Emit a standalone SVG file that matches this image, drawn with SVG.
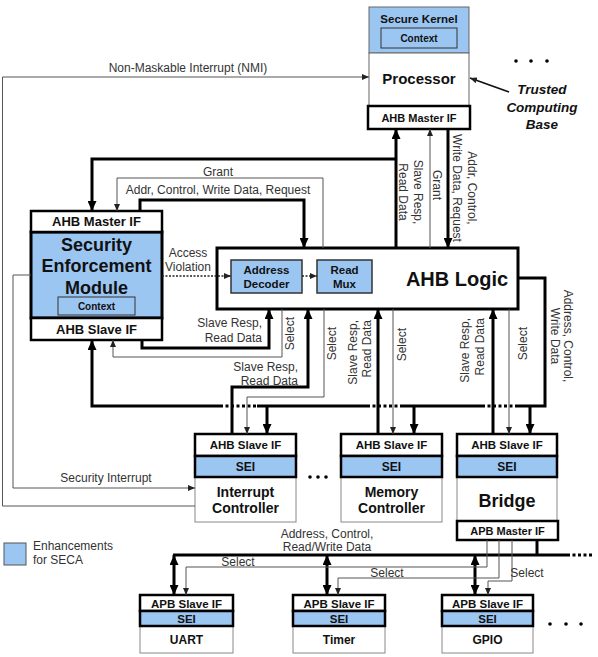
<svg xmlns="http://www.w3.org/2000/svg" width="598" height="657" viewBox="0 0 598 657">
<style>
text{font-family:"Liberation Sans",Arial,sans-serif;}
.b{font-weight:bold;fill:#111;text-anchor:middle;}
.l{font-size:12px;fill:#333;}
.m{text-anchor:middle;}
.e{text-anchor:end;}
.blue{fill:#9cc6f2;}
.tk{fill:none;stroke:#000;stroke-width:3;}
.tn{fill:none;stroke:#555;stroke-width:1;}
.dt{fill:none;stroke:#000;stroke-width:3;stroke-dasharray:3 2.5;}
.if{fill:#fff;stroke:#000;stroke-width:2.5;}
.sei{fill:#9cc6f2;stroke:#000;stroke-width:2.5;}
.body{fill:#fff;stroke:#888;stroke-width:1;}
</style>
<defs>
<marker id="ah" markerUnits="userSpaceOnUse" markerWidth="10" markerHeight="9" refX="10" refY="4.5" orient="auto-start-reverse"><path d="M0,0 L10,4.5 L0,9 z" fill="#000"/></marker>
<marker id="as" markerUnits="userSpaceOnUse" markerWidth="7" markerHeight="6" refX="7" refY="3" orient="auto"><path d="M0,0 L7,3 L0,6 z" fill="#222"/></marker>
</defs>

<g id="processor">
<rect x="369" y="7" width="100" height="46" class="blue" stroke="#666" stroke-width="1"/>
<rect x="381" y="28" width="76" height="20" class="blue" stroke="#333" stroke-width="1"/>
<rect x="369" y="53" width="100" height="53" fill="#fff" stroke="#666" stroke-width="1"/>
<rect x="368" y="106" width="102" height="23" class="if" stroke-width="3"/>
<text x="419" y="23" class="b" font-size="11.5">Secure Kernel</text>
<text x="419" y="41.5" class="b" font-size="10">Context</text>
<text x="419" y="84" class="b" font-size="15">Processor</text>
<text x="419" y="121.5" class="b" font-size="11">AHB Master IF</text>
</g>

<g id="tcb">
<text x="542" y="94" class="b" font-size="13.5" font-style="italic">Trusted</text>
<text x="542" y="112" class="b" font-size="13.5" font-style="italic">Computing</text>
<text x="542" y="129" class="b" font-size="13.5" font-style="italic">Base</text>
<circle cx="516" cy="61" r="1.8" fill="#000"/><circle cx="531" cy="61" r="1.8" fill="#000"/><circle cx="547" cy="61" r="1.8" fill="#000"/>
</g>

<g id="sem">
<rect x="31" y="232" width="131" height="86" class="blue" stroke="#000" stroke-width="3"/>
<rect x="31" y="211" width="131" height="21" class="if" stroke-width="3"/>
<rect x="31" y="318" width="131" height="22" class="if" stroke-width="3"/>
<rect x="58" y="297" width="77" height="18" class="blue" stroke="#333" stroke-width="1"/>
<text x="96.5" y="226" class="b" font-size="13">AHB Master IF</text>
<text x="96.5" y="250.5" class="b" font-size="18">Security</text>
<text x="96.5" y="271.5" class="b" font-size="18">Enforcement</text>
<text x="96.5" y="293.5" class="b" font-size="18">Module</text>
<text x="96.5" y="309.5" class="b" font-size="10">Context</text>
<text x="96.5" y="334" class="b" font-size="13">AHB Slave IF</text>
</g>

<g id="ahb-logic">
<rect x="217" y="248" width="301" height="61" fill="#fff" stroke="#000" stroke-width="3"/>
<rect x="231" y="260" width="71" height="33" class="blue" stroke="#333" stroke-width="1.5"/>
<rect x="317" y="260" width="55" height="33" class="blue" stroke="#333" stroke-width="1.5"/>
<text x="266.5" y="274" class="b" font-size="11.5">Address</text>
<text x="266.5" y="288" class="b" font-size="11.5">Decoder</text>
<text x="344.5" y="274" class="b" font-size="11.5">Read</text>
<text x="344.5" y="288" class="b" font-size="11.5">Mux</text>
<text x="457" y="286" class="b" font-size="20">AHB Logic</text>
</g>

<g id="interrupt-controller">
<rect x="195" y="477" width="101" height="45" class="body"/>
<rect x="195" y="434" width="101" height="22" class="if"/>
<rect x="195" y="456" width="101" height="21" class="sei"/>
<text x="245.5" y="449" class="b" font-size="11.5">AHB Slave IF</text>
<text x="245.5" y="470.5" class="b" font-size="12">SEI</text>
<text x="245.5" y="497" class="b" font-size="14">Interrupt</text>
<text x="245.5" y="513" class="b" font-size="14">Controller</text>
</g>

<g id="memory-controller">
<rect x="341" y="477" width="101" height="45" class="body"/>
<rect x="341" y="434" width="101" height="22" class="if"/>
<rect x="341" y="456" width="101" height="21" class="sei"/>
<text x="391.5" y="449" class="b" font-size="11.5">AHB Slave IF</text>
<text x="391.5" y="470.5" class="b" font-size="12">SEI</text>
<text x="391.5" y="497" class="b" font-size="14">Memory</text>
<text x="391.5" y="513" class="b" font-size="14">Controller</text>
</g>

<g id="bridge">
<rect x="457" y="477" width="100" height="44" class="body"/>
<rect x="457" y="434" width="100" height="22" class="if"/>
<rect x="457" y="456" width="100" height="21" class="sei"/>
<rect x="457" y="521" width="101" height="19" class="if"/>
<text x="507" y="449" class="b" font-size="11.5">AHB Slave IF</text>
<text x="507" y="470.5" class="b" font-size="12">SEI</text>
<text x="507" y="507" class="b" font-size="18">Bridge</text>
<text x="507.5" y="535" class="b" font-size="11">APB Master IF</text>
</g>

<g id="uart">
<rect x="140" y="626" width="93" height="27" class="body"/>
<rect x="140" y="595" width="93" height="16" class="if"/>
<rect x="140" y="611" width="93" height="15" class="sei"/>
<text x="186.5" y="607.5" class="b" font-size="11.5">APB Slave IF</text>
<text x="186.5" y="623" class="b" font-size="11.5">SEI</text>
<text x="186.5" y="644" class="b" font-size="12">UART</text>
</g>

<g id="timer">
<rect x="293" y="626" width="92" height="27" class="body"/>
<rect x="293" y="595" width="92" height="16" class="if"/>
<rect x="293" y="611" width="92" height="15" class="sei"/>
<text x="339" y="607.5" class="b" font-size="11.5">APB Slave IF</text>
<text x="339" y="623" class="b" font-size="11.5">SEI</text>
<text x="339" y="644" class="b" font-size="12">Timer</text>
</g>

<g id="gpio">
<rect x="442" y="626" width="91" height="27" class="body"/>
<rect x="442" y="595" width="91" height="16" class="if"/>
<rect x="442" y="611" width="91" height="15" class="sei"/>
<text x="487.5" y="607.5" class="b" font-size="11.5">APB Slave IF</text>
<text x="487.5" y="623" class="b" font-size="11.5">SEI</text>
<text x="487.5" y="644" class="b" font-size="12">GPIO</text>
</g>

<g id="legend">
<rect x="4" y="543" width="22" height="22" class="blue" stroke="#555" stroke-width="1"/>
<text x="33" y="550" class="l" font-size="12.5">Enhancements</text>
<text x="33" y="564" class="l" font-size="12.5">for SECA</text>
</g>

<g id="ellipses" fill="#000">
<circle cx="310" cy="477" r="1.8"/><circle cx="318" cy="477" r="1.8"/><circle cx="326" cy="477" r="1.8"/>
<circle cx="550" cy="624" r="1.8"/><circle cx="566" cy="624" r="1.8"/><circle cx="581" cy="624" r="1.8"/>
</g>

<g id="connectors">
<path class="tk" d="M396,248 V129" marker-end="url(#ah)"/>
<path class="tk" d="M396,159 H92 V211" marker-end="url(#ah)"/>
<path class="tk" d="M140,211 V200 H304 V248" marker-end="url(#ah)"/>
<path class="tk" d="M448,129 V248" marker-end="url(#ah)"/>
<path class="tk" d="M142,340 V348 H269 V309" marker-end="url(#ah)"/>
<path class="tk" d="M232,434 V387 H308 V309" marker-end="url(#ah)"/>
<path class="tk" d="M378,434 V309" marker-end="url(#ah)"/>
<path class="tk" d="M493,434 V309" marker-end="url(#ah)"/>
<path class="tk" d="M220,406 H92 V340" marker-end="url(#ah)"/>
<path class="dt" d="M220,406 H257"/>
<path class="tk" d="M257,406 H367"/>
<path class="dt" d="M367,406 H400"/>
<path class="tk" d="M400,406 H482"/>
<path class="dt" d="M482,406 H518"/>
<path class="tk" d="M518,406 H545 V278 H518"/>
<path class="tk" d="M267,406 V434" marker-end="url(#ah)"/>
<path class="tk" d="M414,406 V434" marker-end="url(#ah)"/>
<path class="tk" d="M530,406 V434" marker-end="url(#ah)"/>
<path class="tk" d="M537,540 V555"/>
<path class="tk" d="M173,555 H567"/>
<path class="dt" d="M567,555 H592"/>
<path class="tk" d="M174,555 V595" marker-start="url(#ah)" marker-end="url(#ah)"/>
<path class="tk" d="M327,555 V595" marker-start="url(#ah)" marker-end="url(#ah)"/>
<path class="tk" d="M475,555 V595" marker-start="url(#ah)" marker-end="url(#ah)"/>
<path class="tn" d="M430,248 V129" marker-end="url(#as)"/>
<path class="tn" d="M323,248 V178 H117 V211" marker-end="url(#as)"/>
<path class="tn" d="M282,309 V357 H113 V340" marker-end="url(#as)"/>
<path class="tn" d="M324,309 V397 H247 V434" marker-end="url(#as)"/>
<path class="tn" d="M393,309 V434" marker-end="url(#as)"/>
<path class="tn" d="M509,309 V434" marker-end="url(#as)"/>
<path class="tn" d="M195,506 H2.5 V77 H369" marker-end="url(#as)"/>
<path class="tn" d="M31,275 H13 V488 H195" marker-end="url(#as)"/>
<path class="tn" d="M487,540 V567 H186 V595" marker-end="url(#as)"/>
<path class="tn" d="M499,540 V578 H338 V595" marker-end="url(#as)"/>
<path class="tn" d="M512,540 V581 H488 V595" marker-end="url(#as)"/>
<path d="M162,276 H231" fill="none" stroke="#222" stroke-width="1.5" stroke-dasharray="2 1.5" marker-end="url(#as)"/>
<path d="M302,276 H317" fill="none" stroke="#222" stroke-width="1.5" stroke-dasharray="2 1.5" marker-end="url(#as)"/>
<path d="M509,92 L470,78" fill="none" stroke="#111" stroke-width="1.8" marker-end="url(#as)"/>
</g>

<g id="labels" class="l">
<text x="188" y="72" class="l m">Non-Maskable Interrupt (NMI)</text>
<text x="218" y="176" class="l m">Grant</text>
<text x="218" y="194" class="l m">Addr, Control, Write Data, Request</text>
<text x="188" y="257" class="l m">Access</text>
<text x="188" y="271" class="l m">Violation</text>
<text x="262" y="327" class="l e">Slave Resp,</text>
<text x="262" y="342" class="l e">Read Data</text>
<text x="298" y="371" class="l e">Slave Resp,</text>
<text x="298" y="385" class="l e">Read Data</text>
<text x="106" y="482" class="l m">Security Interrupt</text>
<text x="327" y="538" class="l m">Address, Control,</text>
<text x="327" y="551" class="l m">Read/Write Data</text>
<text x="238" y="566" class="l m" font-size="10">Select</text>
<text x="387" y="577" class="l m" font-size="10">Select</text>
<text x="527" y="577" class="l m" font-size="10">Select</text>
<text transform="translate(414,192) rotate(90)" class="l m">Slave Resp,</text>
<text transform="translate(399,192) rotate(90)" class="l m">Read Data</text>
<text transform="translate(433,185) rotate(90)" class="l m">Grant</text>
<text transform="translate(468,188) rotate(90)" class="l m">Addr, Control,</text>
<text transform="translate(453,188) rotate(90)" class="l m">Write Data, Request</text>
<text transform="translate(564,336) rotate(90)" class="l m">Address, Control,</text>
<text transform="translate(551,336) rotate(90)" class="l m">Write Data</text>
<text transform="translate(294,317) rotate(-90)" class="l e">Select</text>
<text transform="translate(336,327) rotate(-90)" class="l e">Select</text>
<text transform="translate(357,320) rotate(-90)" class="l e">Slave Resp,</text>
<text transform="translate(371,320) rotate(-90)" class="l e">Read Data</text>
<text transform="translate(406,328) rotate(-90)" class="l e">Select</text>
<text transform="translate(469,318) rotate(-90)" class="l e">Slave Resp,</text>
<text transform="translate(484,318) rotate(-90)" class="l e">Read Data</text>
<text transform="translate(527,327) rotate(-90)" class="l e">Select</text>
</g>
</svg>
